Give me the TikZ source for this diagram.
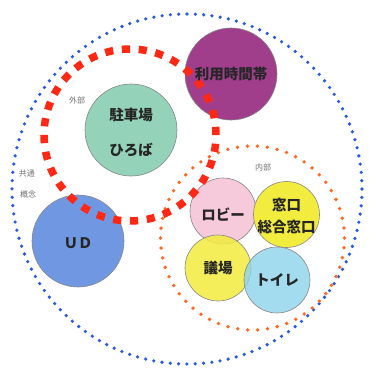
\documentclass[tikz,border=0pt]{standalone}
\usepackage{fontspec}
\newfontfamily\jp{Noto Sans CJK JP}
\definecolor{cteal}{RGB}{148,210,186}
\definecolor{cpurple}{RGB}{160,62,140}
\definecolor{cud}{RGB}{112,152,226}
\definecolor{cpink}{RGB}{246,202,218}
\definecolor{cyel}{RGB}{242,236,62}
\definecolor{ccyan}{RGB}{140,210,236}
\definecolor{cred}{RGB}{255,40,20}
\definecolor{corange}{RGB}{255,105,35}
\definecolor{cblue}{RGB}{40,90,225}
\definecolor{cline}{RGB}{135,135,135}
\tikzset{
  bub/.style={circle,draw=cline,line width=0.6pt,inner sep=0pt},
  big/.style={bub,minimum size=92pt},
  small/.style={bub,minimum size=66pt},
  lbl/.style={font=\jp\bfseries\fontsize{14.5}{16}\selectfont,text=black!85,align=center,inner sep=0pt},
  tag/.style={font=\jp\fontsize{8}{9}\selectfont,text=black!55,inner sep=0pt},
  bluedots/.style={draw=cblue,line width=3.6pt,line cap=round,dash pattern=on 0pt off 8.33pt},
  orangedots/.style={draw=corange,line width=3.8pt,line cap=round,dash pattern=on 0pt off 9.97pt},
  reddash/.style={draw=cred,line width=7.5pt,dash pattern=on 8.2pt off 8.686pt}
}
\begin{document}
\begin{tikzpicture}[x=1pt,y=-1pt]
\useasboundingbox[fill=white] (0,0) rectangle (368,370);
% bubbles
\node[big,fill=cpurple] (time) at (231,74) {};
\node[big,fill=cteal] (park) at (131,130) {};
\node[big,fill=cud] (ud) at (78,241) {};
\node[small,fill=cpink] (lobby) at (223,211) {};
\node[small,fill=cyel] (window) at (286.5,214.5) {};
\node[small,fill=cyel,fill opacity=0.85] (hall) at (218,268) {};
\node[small,fill=ccyan,fill opacity=0.8] (toilet) at (277,280) {};
% boundaries
\coordinate (cout) at (187,189);
\coordinate (cin) at (252.5,238);
\coordinate (cext) at (130,135);
\draw[bluedots] (cout) circle[radius=175pt];
\draw[orangedots] (cin) circle[radius=92pt];
\draw[reddash] (cext) circle[radius=86pt];
% labels
\node[lbl] at (time.center) {利用時間帯};
\node[lbl] at ([yshift=15pt]park.center) {駐車場};
\node[lbl] at ([yshift=-20pt]park.center) {ひろば};
\node[lbl] at ([yshift=-2pt]ud.center) {ＵＤ};
\node[lbl] at ([yshift=-4pt]lobby.center) {ロビー};
\node[lbl] at ([yshift=10pt]window.center) {窓口};
\node[lbl] at ([yshift=-12pt]window.center) {総合窓口};
\node[lbl] at (hall.center) {議場};
\node[lbl] at (toilet.center) {トイレ};
\node[tag] (gaibu) at (77,100) {外部};
\node[tag] (naibu) at (263,167) {内部};
\node[tag] (kyotsu) at (27,173) {共通};
\node[tag] (gainen) at (28,194) {概念};
\end{tikzpicture}
\end{document}
